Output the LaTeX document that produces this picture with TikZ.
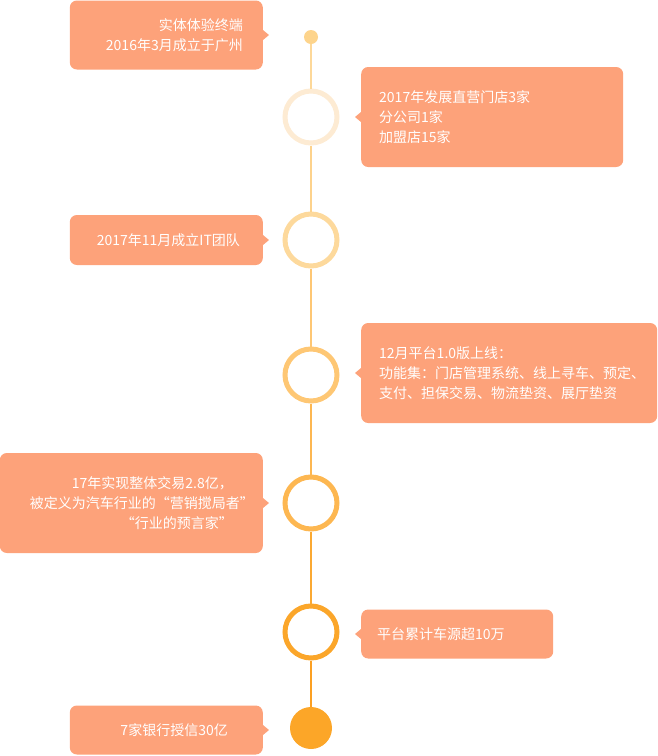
\documentclass[tikz,border=0pt]{standalone}
\usepackage{fontspec}
\setmainfont{Noto Sans CJK SC}

\definecolor{cardfill}{HTML}{FDA27A}
\definecolor{dotlight}{HTML}{FDD48C}
\definecolor{ringA}{HTML}{FDEBD3}
\definecolor{ringB}{HTML}{FDD99C}
\definecolor{ringC}{HTML}{FEC774}
\definecolor{ringD}{HTML}{FDB751}
\definecolor{ringE}{HTML}{FBA62A}
\definecolor{dotdark}{HTML}{FCA628}

\begin{document}
\begin{tikzpicture}[
    x=1pt, y=-1pt,
    card/.style={fill=cardfill, rounded corners=7pt, text=white, inner ysep=0pt,
                 font=\fontsize{14}{20}\selectfont},
    pointer/.style={fill=cardfill},
    ring/.style={circle, draw=#1, line width=5pt, fill=white, minimum size=52pt, inner sep=0pt},
    dot/.style={circle, fill=#1, inner sep=0pt},
    seg/.style={draw=#1, line width=2pt}
]
    \useasboundingbox (0,0) rectangle (657,756);

    % Timeline marks
    \node[dot=dotlight, minimum size=14pt] (d0) at (311,37) {};
    \node[ring=ringA] (e1) at (311,117) {};
    \node[ring=ringB] (e2) at (311,240) {};
    \node[ring=ringC] (e3) at (311,375) {};
    \node[ring=ringD] (e4) at (311,503) {};
    \node[ring=ringE] (e5) at (311,632) {};
    \node[dot=dotdark, minimum size=42pt] (d6) at (311,728) {};

    % Timeline segments
    \path[seg=ringB!80!dotlight] (d0) -- (e1);
    \path[seg=ringB!60!ringC] (e1) -- (e2);
    \path[seg=ringC] (e2) -- (e3);
    \path[seg=ringD] (e3) -- (e4);
    \path[seg=ringE!80!ringD] (e4) -- (e5);
    \path[seg=dotdark!85!orange] (e5) -- (d6);

    % Cards, left side
    \node[card, anchor=east, minimum height=69pt, inner xsep=20pt, text width=153pt, align=right] (c1) at (263,35) {
        实体体验终端\\
        2016年3月成立于广州
    };
    \node[card, anchor=east, minimum height=50pt, inner xsep=27pt, text width=139pt, align=right] (c3) at (263,240) {
        2017年11月成立IT团队
    };
    \node[card, anchor=east, minimum height=100pt, inner xsep=30pt, text width=203pt, align=right] (c5) at (263,503) {
        17年实现整体交易2.8亿，\\
        被定义为汽车行业的“营销搅局者”\\
        “行业的预言家”
    };
    \node[card, anchor=east, minimum height=49pt, inner xsep=35pt, text width=123pt, align=right] (c7) at (263,730) {
        7家银行授信30亿
    };

    % Cards, right side
    \node[card, anchor=west, minimum height=100pt, inner xsep=18pt, text width=226pt, align=left] (c2) at (361,117) {
        2017年发展直营门店3家\\
        分公司1家\\
        加盟店15家
    };
    \node[card, anchor=west, minimum height=100pt, inner xsep=18pt, text width=260pt, align=left] (c4) at (361,373) {
        12月平台1.0版上线：\\
        功能集：门店管理系统、线上寻车、预定、\\
        支付、担保交易、物流垫资、展厅垫资
    };
    \node[card, anchor=west, minimum height=49pt, inner xsep=16pt, text width=160pt, align=left] (c6) at (361,634) {
        平台累计车源超10万
    };

    % Pointers
    \fill[pointer] (c1.east) ++(0,-5) -- ++(6,5) -- ++(-6,5) -- cycle;
    \fill[pointer] (c3.east) ++(0,-5) -- ++(6,5) -- ++(-6,5) -- cycle;
    \fill[pointer] (c5.east) ++(0,-5) -- ++(6,5) -- ++(-6,5) -- cycle;
    \fill[pointer] (c7.east) ++(0,-5) -- ++(6,5) -- ++(-6,5) -- cycle;
    \fill[pointer] (c2.west) ++(0,-5) -- ++(-6,5) -- ++(6,5) -- cycle;
    \fill[pointer] (c4.west) ++(0,-5) -- ++(-6,5) -- ++(6,5) -- cycle;
    \fill[pointer] (c6.west) ++(0,-5) -- ++(-6,5) -- ++(6,5) -- cycle;

\end{tikzpicture}
\end{document}
